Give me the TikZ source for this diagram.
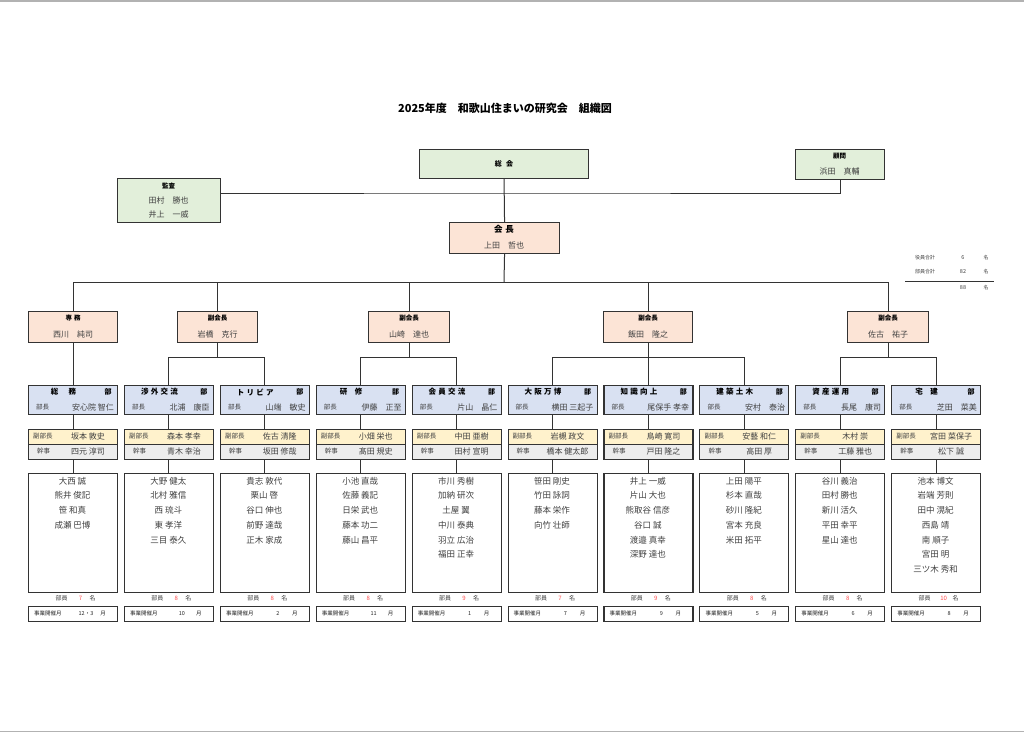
\documentclass[tikz,border=0pt]{standalone}
\usepackage{fontspec}
\setmainfont{Noto Sans CJK JP}
\definecolor{lgreen}{HTML}{E2EFDA}
\definecolor{lpeach}{HTML}{FCE4D6}
\definecolor{lblue}{HTML}{D9E1F2}
\definecolor{lyellow}{HTML}{FFF2CC}
\definecolor{lgray}{HTML}{EDEDED}
\definecolor{mline}{HTML}{333333}
\definecolor{mtext}{HTML}{404040}
\definecolor{mred}{HTML}{FF4B4B}
\tikzset{box/.style = {draw=mline, line width=1.1pt, inner sep=0, anchor=north west}}
\tikzset{conn/.style = {draw=mline, line width=1pt}}
\tikzset{head/.style = {font=\bfseries\fontsize{6.5}{8}\selectfont, inner sep=0}}
\tikzset{who/.style = {text=mtext, font=\fontsize{8}{9}\selectfont, inner sep=0}}
\tikzset{tiny/.style = {text=mtext, font=\fontsize{6}{7}\selectfont, inner sep=0}}
\newcommand{\jsp}{\hspace{.3em}}

\begin{document}
\begin{tikzpicture}[x=1pt, y=-1pt]
  \useasboundingbox (0,0) rectangle (1024,732);
  \draw [gray!60, line width=1.5pt] (0,0.75) -- (1024,0.75);
  \draw [gray!60, line width=1.5pt] (0,731.25) -- (1024,731.25);
  \node [font=\bfseries\fontsize{11}{13}\selectfont] (title) at (505,108)
    {2025年度\quad 和歌山住まいの研究会\quad 組織図};
  % top boxes
  \node [box, fill=lgreen, minimum width=169, minimum height=29] (sokai) at (419,149) {};
  \node [head, font=\bfseries\fontsize{7}{8}\selectfont] (sokai-t) at (sokai.center) {総\hspace{.6em}会};
  \node [box, fill=lgreen, minimum width=103, minimum height=44] (kansa) at (117,178) {};
  \node [head] (kansa-t) at (168.5,186) {監査};
  \node [who] (kansa-a) at (168.5,200) {田村　勝也};
  \node [who] (kansa-b) at (168.5,214) {井上　一威};
  \node [box, fill=lgreen, minimum width=89, minimum height=30] (komon) at (795,149) {};
  \node [head] (komon-t) at (839.5,156) {顧問};
  \node [who] (komon-a) at (839.5,171) {浜田　真輔};
  \node [box, fill=lpeach, minimum width=110, minimum height=31] (kaicho) at (449,222) {};
  \node [head, font=\bfseries\fontsize{8.5}{10}\selectfont] (kaicho-t) at (504,229.5) {会\jsp 長};
  \node [who] (kaicho-a) at (504,245) {上田　哲也};
  \coordinate (j1) at (504,193);
  \coordinate (bus) at (504,282);
  \draw [conn] (sokai.south) -- (kaicho.north);
  \draw [conn] (kansa.east |- j1) -- (j1) -| (komon.south);
  \draw [conn] (kaicho.south) -- (bus);
  % totals
  \foreach \ty/\lab/\nb in {258/役員合計/6, 272/部員合計/82, 288/{}/88}{
    \node [tiny, font=\fontsize{5}{6}\selectfont] (sum\nb) at (925,\ty) {\lab};
    \node [tiny, font=\fontsize{5.5}{6}\selectfont] (sum\nb-n) at (963,\ty) {\nb};
    \node [tiny, font=\fontsize{5}{6}\selectfont] (sum\nb-u) at (986,\ty) {名};
  }
  \coordinate (sl) at (905,281);
  \coordinate (sr) at (994,281);
  \draw [mline, line width=0.8pt] (sl) -- (sr);
  % second level
  \foreach \n/\x/\w/\t/\p in {senmu/28/89/専\jsp 務/西川　純司, vpa/177/80/副会長/岩橋　克行,
      vpb/368/81/副会長/山崎　達也, vpc/603/89/副会長/飯田　隆之, vpd/847/81/副会長/佐古　祐子}{
    \node [box, fill=lpeach, minimum width=\w, minimum height=31] (\n) at (\x,311) {};
    \node [head] (\n-t) at ([yshift=-7.5pt]\n.north) {\t};
    \node [who] (\n-p) at ([yshift=9pt]\n.south) {\p};
    \draw [conn] (\n.north) -- (\n.north |- bus);
  }
  \draw [conn] (senmu.north |- bus) -- (vpd.north |- bus);
  % departments
  \foreach \i/\dn/\hd/\vc/\sc/\mb/\nb/\mo in {
      0/{総\hspace{1.4em}務}/安心院 智仁/坂本 敦史/四元 淳司/{大西 誠,熊井 俊記,笹 和真,成瀬 巴博}/7/12・3,
      1/{渉\jsp 外\jsp 交\jsp 流}/北浦　康臣/森本 孝幸/青木 幸治/{大野 健太,北村 雅信,西 琉斗,東 孝洋,三目 泰久}/8/10,
      2/{ト\jsp リ\jsp ビ\jsp ア}/山端　敏史/佐古 清隆/坂田 修哉/{貴志 敦代,栗山 啓,谷口 伸也,前野 達哉,正木 家成}/8/2,
      3/{研\hspace{1em}修}/伊藤　正至/小畑 栄也/髙田 規史/{小池 直哉,佐藤 義記,日栄 武也,藤本 功二,藤山 昌平}/8/11,
      4/{会\jsp 員\jsp 交\jsp 流}/片山　晶仁/中田 亜樹/田村 宣明/{市川 秀樹,加納 研次,土屋 翼,中川 泰典,羽立 広治,福田 正幸}/9/1,
      5/{大\jsp 阪\jsp 万\jsp 博}/横田 三起子/岩槻 政文/橋本 健太郎/{笹田 剛史,竹田 詠詞,藤本 栄作,向竹 壮師}/7/7,
      6/{知\jsp 識\jsp 向\jsp 上}/尾保手 孝幸/鳥崎 寛司/戸田 隆之/{井上 一威,片山 大也,熊取谷 信彦,谷口 誠,渡邉 真幸,深野 達也}/9/9,
      7/{建\jsp 築\jsp 土\jsp 木}/安村　泰治/安藝 和仁/高田 厚/{上田 陽平,杉本 直哉,砂川 隆紀,宮本 充良,米田 拓平}/8/5,
      8/{資\jsp 産\jsp 運\jsp 用}/長尾　康司/木村 崇/工藤 雅也/{谷川 義治,田村 勝也,新川 活久,平田 幸平,星山 達也}/8/6,
      9/{宅\hspace{1em}建}/芝田　菜美/宮田 菜保子/松下 誠/{池本 博文,岩端 芳則,田中 滉紀,西島 靖,南 順子,宮田 明,三ツ木 秀和}/10/8}{
    \pgfmathsetmacro{\lx}{28+95.9*\i}
    \pgfmathsetmacro{\cx}{\lx+44.5}
    \node [box, fill=lblue, minimum width=89, minimum height=29] (dept\i) at (\lx,385) {};
    \node [head, font=\bfseries\fontsize{7.5}{9}\selectfont] (dept\i-t) at (\cx-9,392) {\dn};
    \node [head, font=\bfseries\fontsize{7}{9}\selectfont] (dept\i-b) at (\lx+80,392) {部};
    \node [tiny, font=\fontsize{6.5}{8}\selectfont, anchor=west] (dept\i-l) at (\lx+8,407) {部長};
    \node [who, anchor=east] (dept\i-p) at (\lx+86,407) {\hd};
    \node [box, fill=lyellow, minimum width=89, minimum height=15] (vice\i) at (\lx,429) {};
    \node [tiny, font=\fontsize{6.5}{8}\selectfont, anchor=west] (vice\i-l) at (\lx+5,436.5) {副部長};
    \node [who] (vice\i-p) at (\lx+60,436.5) {\vc};
    \node [box, fill=lgray, minimum width=89, minimum height=15] (sec\i) at (\lx,444) {};
    \node [tiny, font=\fontsize{6.5}{8}\selectfont, anchor=west] (sec\i-l) at (\lx+9,451.5) {幹事};
    \node [who] (sec\i-p) at (\lx+60,451.5) {\sc};
    \node [box, fill=white, minimum width=89, minimum height=119] (mem\i) at (\lx,473) {};
    \foreach \nm [count=\k] in \mb {
      \node [who, font=\fontsize{8.5}{10}\selectfont] (mem\i-\k) at (\cx,{481+14.7*(\k-1)}) {\nm};
    }
    \node [tiny] (cnt\i) at (\cx-11,598) {部員};
    \node [tiny, text=mred] (cnt\i-n) at (\cx+8,598) {\nb};
    \node [tiny] (cnt\i-u) at (\cx+20,598) {名};
    \node [box, fill=white, minimum width=89, minimum height=15] (mon\i) at (\lx,606) {};
    \node [tiny, text=black!85, font=\fontsize{5.5}{7}\selectfont, anchor=west] (mon\i-l) at (\lx+6,613.5) {事業開催月};
    \node [tiny, text=black!85, font=\fontsize{5.5}{7}\selectfont] (mon\i-m) at (\lx+58,613.5) {\mo};
    \node [tiny, text=black!85, font=\fontsize{5.5}{7}\selectfont] (mon\i-u) at (\lx+75,613.5) {月};
    \draw [conn] (dept\i.south) -- (vice\i.north);
    \draw [conn] (sec\i.south) -- (mem\i.north);
  }
  % branches
  \coordinate (ba) at ([yshift=-14pt]vpa.south);
  \coordinate (bb) at ([yshift=-14pt]vpb.south);
  \coordinate (bc) at ([yshift=-14pt]vpc.south);
  \coordinate (bd) at ([yshift=-14pt]vpd.south);
  \draw [conn] (senmu.south) -- (senmu.south |- dept0.north);
  \draw [conn] (vpa.south) -- (ba);
  \draw [conn] (dept1.north) |- (ba) -| (dept2.north);
  \draw [conn] (vpb.south) -- (bb);
  \draw [conn] (dept3.north) |- (bb) -| (dept4.north);
  \draw [conn] (vpc.south) -- (vpc.south |- dept6.north);
  \draw [conn] (dept5.north) |- (bc) -| (dept7.north);
  \draw [conn] (vpd.south) -- (bd);
  \draw [conn] (dept8.north) |- (bd) -| (dept9.north);
\end{tikzpicture}
\end{document}
